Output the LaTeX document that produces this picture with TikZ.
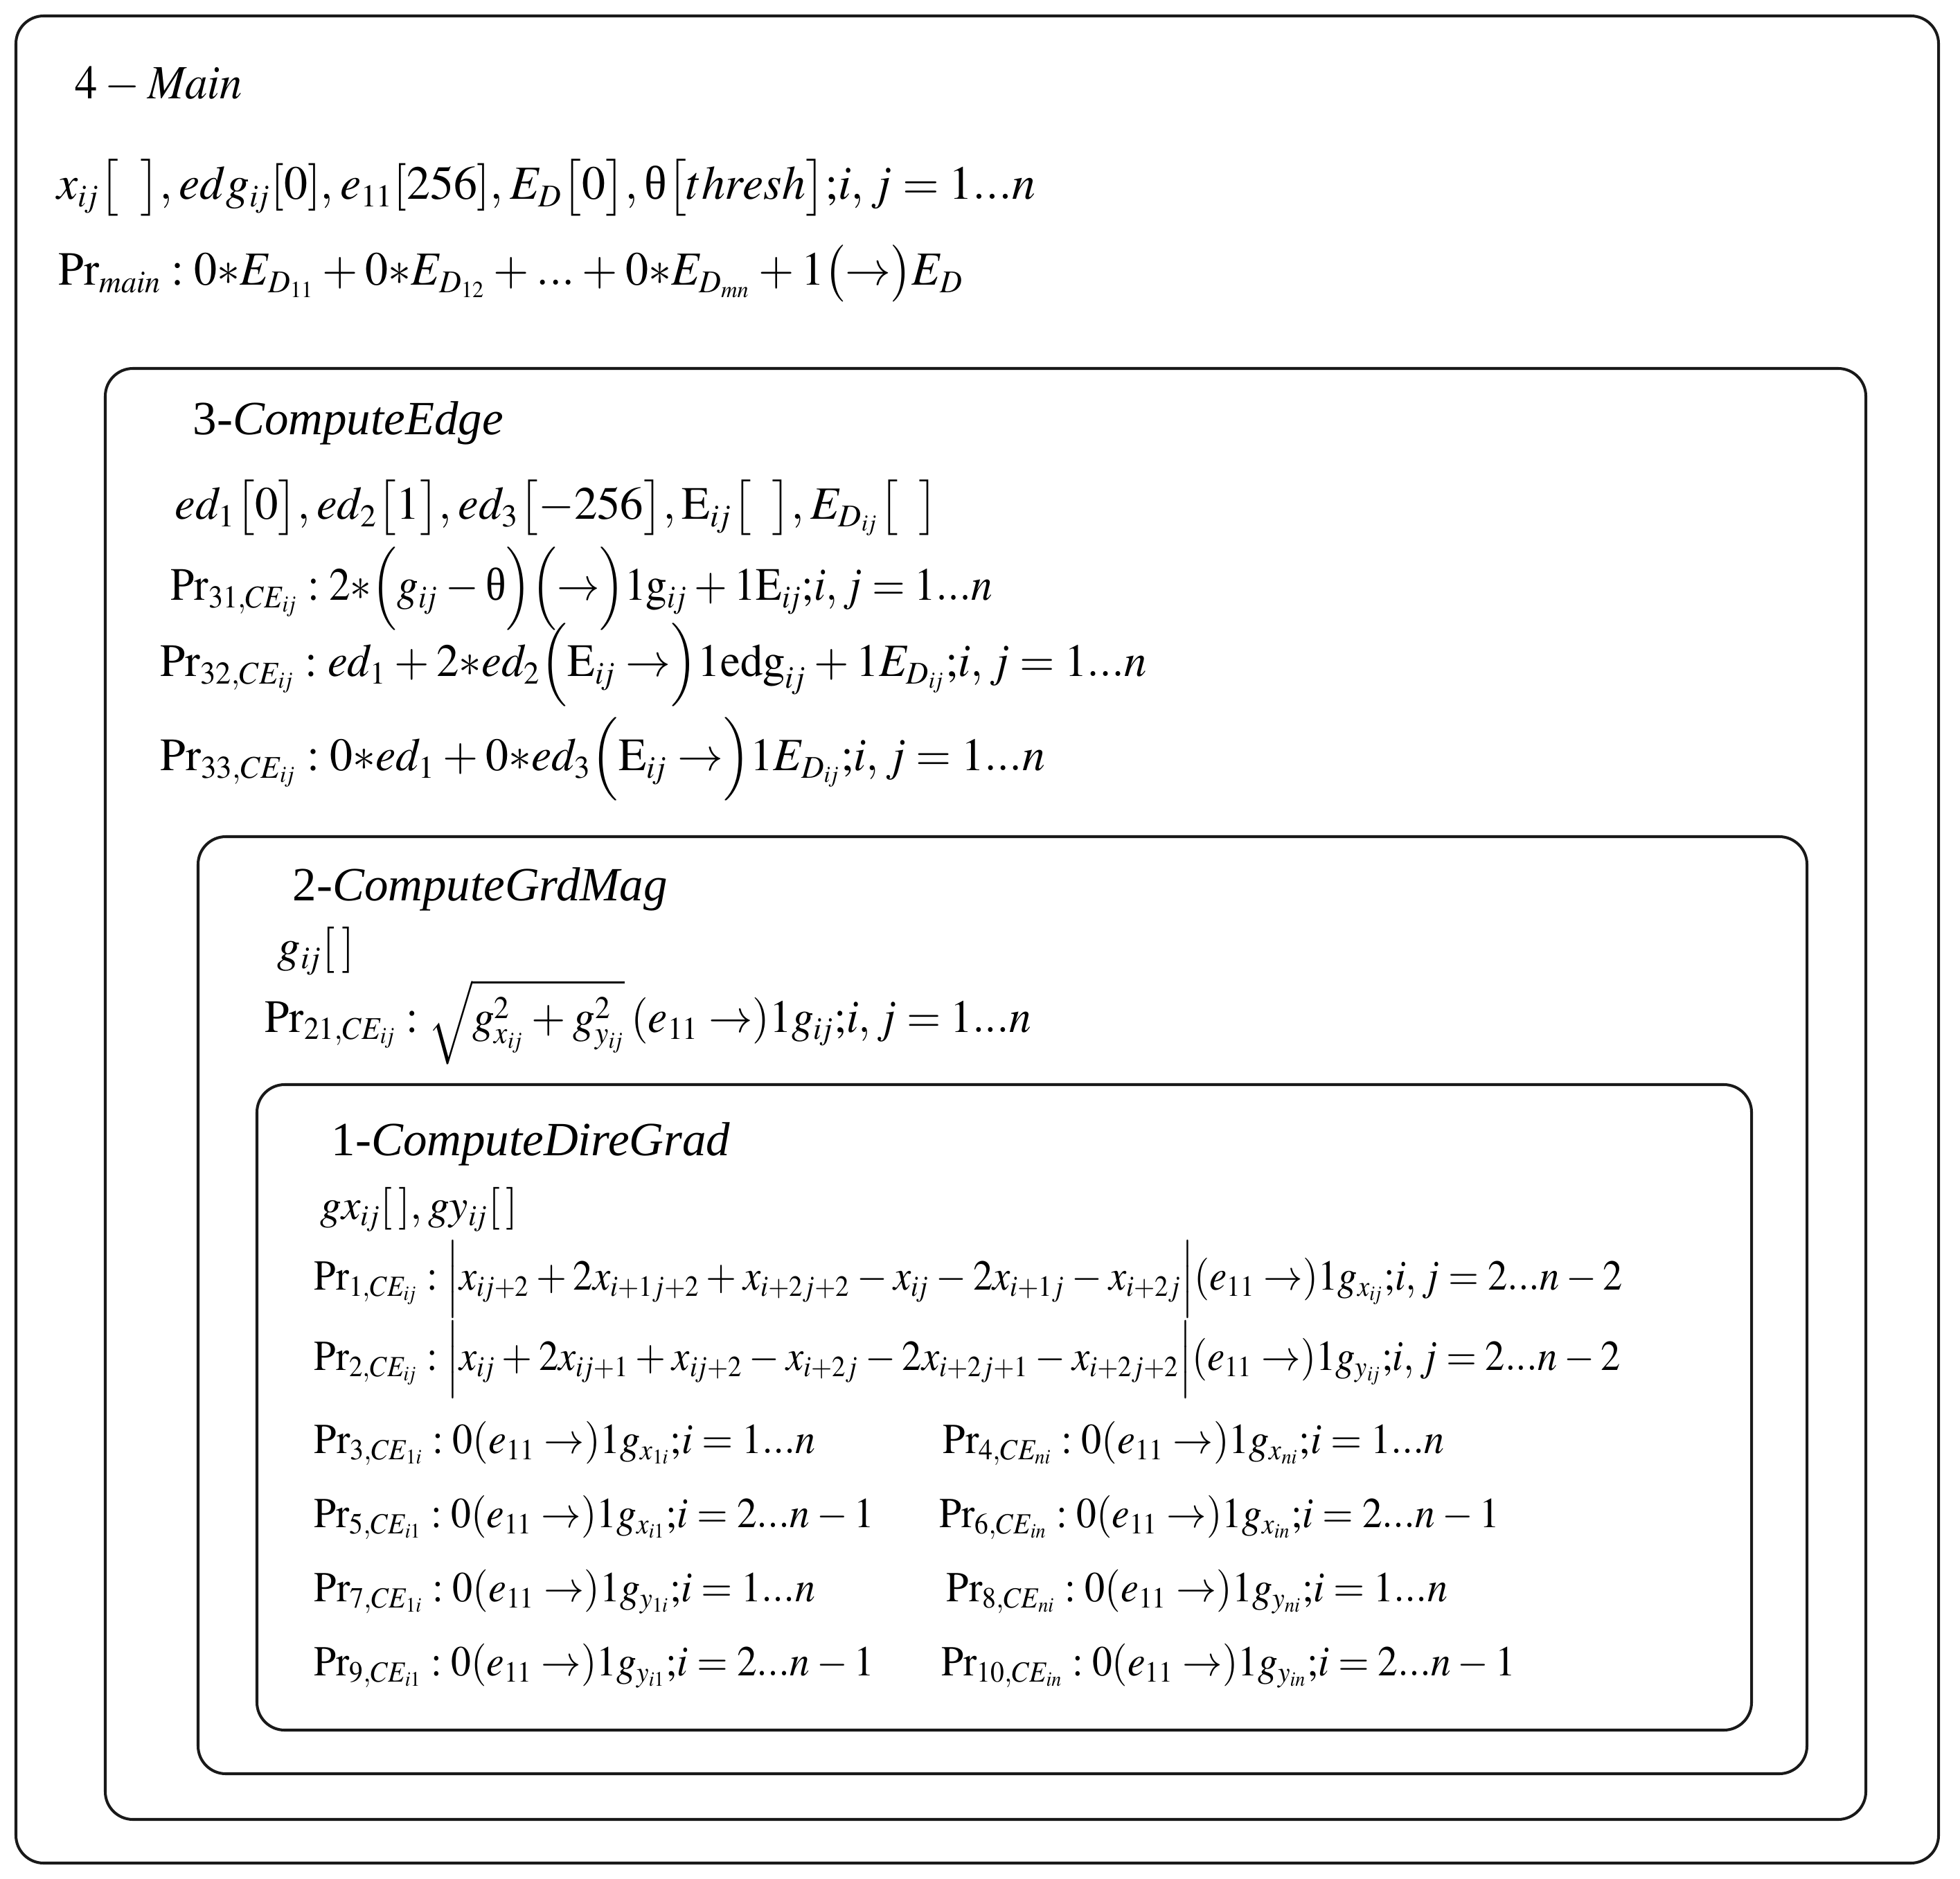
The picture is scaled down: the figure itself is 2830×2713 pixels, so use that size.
\documentclass[tikz,border=0pt]{standalone}
\usepackage{mathptmx}
\usepackage{fontspec}
\setmainfont{Liberation Serif}
\usetikzlibrary{positioning}
\DeclareMathSizes{19.5}{19.5}{13}{9.5}
\DeclareMathSizes{19}{19}{13}{9.5}
\DeclareMathSizes{17.5}{17.5}{12}{8.5}
\thinmuskip=2.5mu
\medmuskip=3mu
\thickmuskip=4mu
\newcommand{\sij}{i\mkern-1.5mu j}
\newcommand{\hsq}[2]{\scalebox{#1}[1]{#2}}
\newcommand{\thr}{\mbox{θ}}

\begin{document}
\begin{tikzpicture}[
    x=0.01cm, y=-0.01cm,
    panel/.style={draw=black!90, line width=1.15pt, rounded corners=0.4cm},
    formula/.style={anchor=base west, inner sep=0pt, font=\fontsize{#1}{23}\selectfont},
    formula/.default=19,
    title/.style={formula=19.6}
]

\useasboundingbox (0,0) rectangle (2830,2713);

\draw[panel] (23,23) rectangle (2799,2690);
\draw[panel] (152,532) rectangle (2694,2627);
\draw[panel] (286,1208) rectangle (2609,2561);
\draw[panel] (371,1566) rectangle (2529,2498);

\node[title] (mainttl) at (108,143) {\hsq{0.94}{$4-\mathit{Main}$}};
\node[formula=19.5] (mainvar) at (82,288) {\hsq{0.99}{$x_{\sij}\bigl[\;\;\bigr], edg_{\sij}[0], e_{11}[256], E_D\bigl[0\bigr], \thr\bigl[thresh\bigr]{;}i, j = 1...n$}};
\node[formula=19.5] (mainpr) at (84,412) {\hsq{0.963}{$\mathrm{Pr}_{main}: 0{*}E_{D_{11}} + 0{*}E_{D_{12}} + ... + 0{*}E_{D_{mn}} + 1\bigl(\rightarrow\bigr)E_D$}};

\node[title] (edgettl) at (278,628) {3-\textit{ComputeEdge}};
\node[formula] (edgevar) at (252,750) {$ed_1\bigl[0\bigr], ed_2\bigl[1\bigr], ed_3\bigl[-256\bigr], \mathrm{E}_{\sij}\bigl[\;\;\bigr], E_{D_{\sij}}\bigl[\;\;\bigr]$};
\node[formula] (edgepra) at (246,867) {\hsq{0.92}{$\mathrm{Pr}_{31,CE_{\sij}}: 2{*}\Bigl(g_{\sij}-\thr\Bigr)\Bigl(\rightarrow\Bigr)1\mathrm{g}_{\sij}+1\mathrm{E}_{\sij}{;}i, j = 1...n$}};
\node[formula] (edgeprb) at (231,977) {\hsq{0.972}{$\mathrm{Pr}_{32,CE_{\sij}}: ed_1 + 2{*}ed_2\Bigl(\mathrm{E}_{\sij}\rightarrow\Bigr)1\mathrm{edg}_{\sij} + 1E_{D_{\sij}}{;}i, j = 1...n$}};
\node[formula] (edgeprc) at (231,1113) {\hsq{0.985}{$\mathrm{Pr}_{33,CE_{\sij}}: 0{*}ed_1 + 0{*}ed_3\Bigl(\mathrm{E}_{\sij}\rightarrow\Bigr)1E_{D_{\sij}}{;}i, j = 1...n$}};

\node[title] (magttl) at (422,1300) {2-\textit{ComputeGrdMag}};
\node[formula] (magvar) at (400,1388) {$g_{\sij}[\,]$};
\node[formula] (magpr) at (382,1490) {\hsq{0.95}{$\mathrm{Pr}_{21,CE_{\sij}}: \sqrt{g_{x_{\sij}}^2 + g_{y_{\sij}}^2}\,(e_{11}\rightarrow)1g_{\sij}{;}i, j = 1...n$}};

\node[title] (gradttl) at (478,1668) {1-\textit{ComputeDireGrad}};
\node[formula=17.5] (gradvar) at (462,1760) {$gx_{\sij}[\,], gy_{\sij}[\,]$};
\node[formula=17.5] (gradpra) at (453,1862) {\hsq{0.92}{$\mathrm{Pr}_{1,CE_{\sij}}: \Bigl|x_{\sij+2} + 2x_{i+1j+2} + x_{i+2j+2} - x_{\sij} - 2x_{i+1j} - x_{i+2j}\Bigr|(e_{11}\rightarrow)1g_{x_{\sij}}{;}i, j = 2...n-2$}};
\node[formula=17.5] (gradprb) at (453,1978) {\hsq{0.92}{$\mathrm{Pr}_{2,CE_{\sij}}: \Bigl|x_{\sij} + 2x_{\sij+1} + x_{\sij+2} - x_{i+2j} - 2x_{i+2j+1} - x_{i+2j+2}\Bigr|(e_{11}\rightarrow)1g_{y_{\sij}}{;}i, j = 2...n-2$}};
\node[formula=17.5] (gradprc) at (453,2098) {\hsq{0.946}{$\mathrm{Pr}_{3,CE_{1i}}: 0(e_{11}\rightarrow)1g_{x_{1i}}{;}i = 1...n$}};
\node[formula=17.5] (gradprd) at (1361,2098) {\hsq{0.946}{$\mathrm{Pr}_{4,CE_{ni}}: 0(e_{11}\rightarrow)1g_{x_{ni}}{;}i = 1...n$}};
\node[formula=17.5] (gradpre) at (453,2205) {\hsq{0.935}{$\mathrm{Pr}_{5,CE_{i1}}: 0(e_{11}\rightarrow)1g_{x_{i1}}{;}i = 2...n-1$}};
\node[formula=17.5] (gradprf) at (1356,2205) {\hsq{0.935}{$\mathrm{Pr}_{6,CE_{in}}: 0(e_{11}\rightarrow)1g_{x_{in}}{;}i = 2...n-1$}};
\node[formula=17.5] (gradprg) at (453,2312) {\hsq{0.945}{$\mathrm{Pr}_{7,CE_{1i}}: 0(e_{11}\rightarrow)1g_{y_{1i}}{;}i = 1...n$}};
\node[formula=17.5] (gradprh) at (1366,2312) {\hsq{0.945}{$\mathrm{Pr}_{8,CE_{ni}}: 0(e_{11}\rightarrow)1g_{y_{ni}}{;}i = 1...n$}};
\node[formula=17.5] (gradpri) at (453,2419) {\hsq{0.935}{$\mathrm{Pr}_{9,CE_{i1}}: 0(e_{11}\rightarrow)1g_{y_{i1}}{;}i = 2...n-1$}};
\node[formula=17.5] (gradprj) at (1359,2419) {\hsq{0.935}{$\mathrm{Pr}_{10,CE_{in}}: 0(e_{11}\rightarrow)1g_{y_{in}}{;}i = 2...n-1$}};

\end{tikzpicture}
\end{document}
